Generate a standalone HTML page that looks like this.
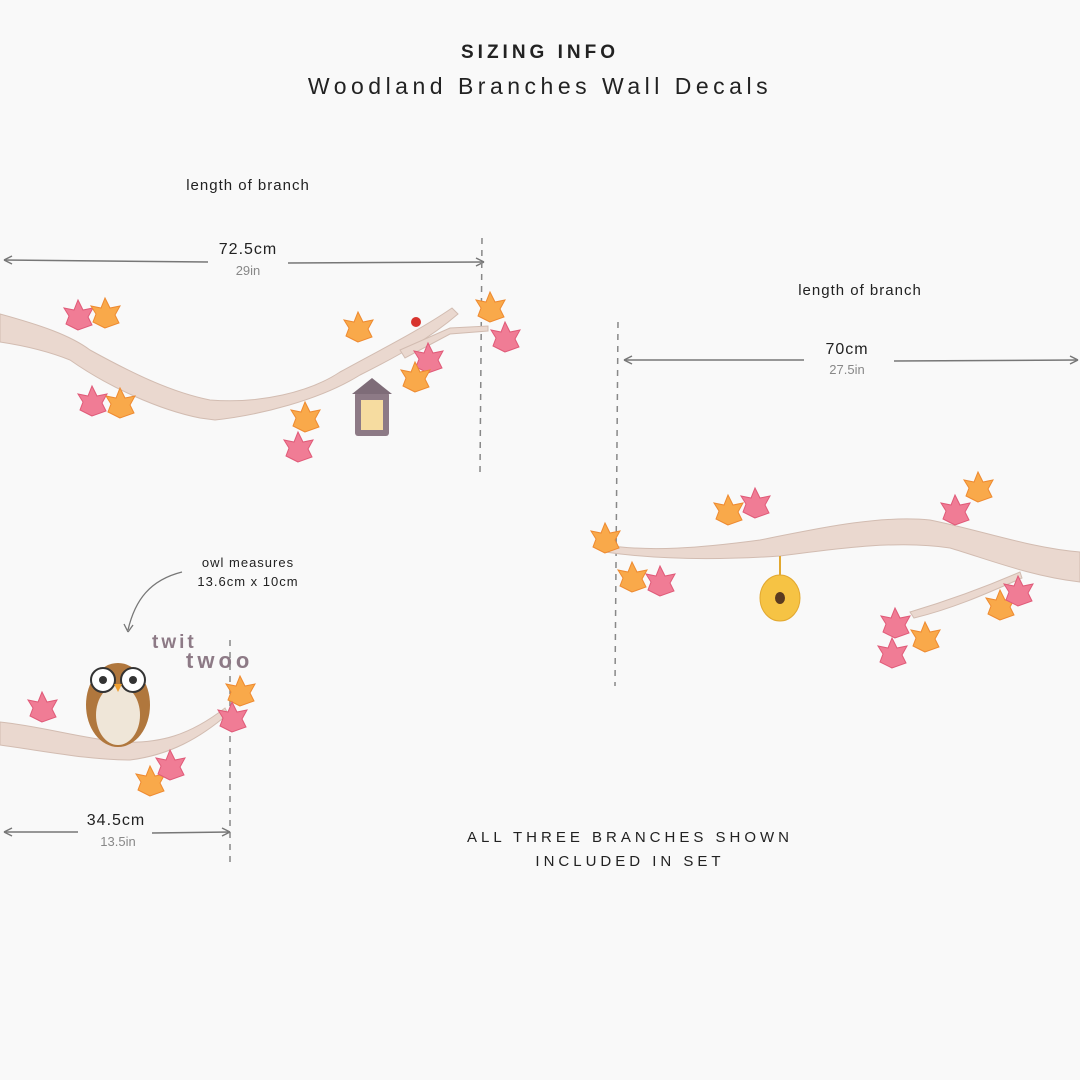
<!DOCTYPE html>
<html><head><meta charset="utf-8"><style>
html,body{margin:0;padding:0;background:#f9f9f9;}
svg{display:block;}
text{font-family:"Liberation Sans",sans-serif;fill:#222;}
</style></head><body>
<svg width="1080" height="1080" viewBox="0 0 1080 1080" xmlns="http://www.w3.org/2000/svg">
<defs>
<g id="leafP"><path d="M0,0 L-12,-6 L-9,-14 L-14,-22 L-4,-20 L0,-30 L5,-20 L15,-22 L10,-13 L14,-5 Z" fill="#f07c95" stroke="#e05a78" stroke-width="1"/></g>
<g id="leafO"><path d="M0,0 L-12,-6 L-9,-14 L-14,-22 L-4,-20 L0,-30 L5,-20 L15,-22 L10,-13 L14,-5 Z" fill="#f9a94a" stroke="#ee8a30" stroke-width="1"/></g>
</defs>
<rect width="1080" height="1080" fill="#f9f9f9"/>
<text x="540" y="58" text-anchor="middle" font-size="19" font-weight="600" letter-spacing="4">SIZING INFO</text>
<text x="540" y="94" text-anchor="middle" font-size="23" letter-spacing="4.5">Woodland Branches Wall Decals</text>

<!-- branch 1 -->
<text x="248" y="190" text-anchor="middle" font-size="15" letter-spacing="1">length of branch</text>
<line x1="4" y1="260" x2="208" y2="262" stroke="#777" stroke-width="1.5"/>
<line x1="288" y1="263" x2="484" y2="262" stroke="#777" stroke-width="1.5"/>
<path d="M4,260 l8,-4 M4,260 l8,4 M484,262 l-8,-4 M484,262 l-8,4" stroke="#777" stroke-width="1.5"/>
<text x="248" y="254" text-anchor="middle" font-size="16" letter-spacing="1">72.5cm</text>
<text x="248" y="275" text-anchor="middle" font-size="13" style="fill:#888">29in</text>
<line x1="482" y1="238" x2="480" y2="472" stroke="#888" stroke-width="1.5" stroke-dasharray="6,6"/>
<path d="M0,314 C40,325 70,335 90,350 C130,372 170,392 210,400 C260,404 310,392 340,372 C380,350 420,330 452,308 L458,314 C430,338 400,355 360,375 C320,400 260,415 215,420 L200,418 C160,410 110,388 70,360 C45,350 20,345 0,342 Z" fill="#ead8cf" stroke="#d2bcb1" stroke-width="1"/>
<path d="M400,350 L450,328 L488,326 L488,331 L450,334 L405,358 Z" fill="#ead8cf" stroke="#d2bcb1"/>
<use href="#leafP" x="78" y="330"/><use href="#leafO" x="105" y="328"/>
<use href="#leafP" x="92" y="416"/><use href="#leafO" x="120" y="418"/>
<use href="#leafO" x="305" y="432"/><use href="#leafP" x="298" y="462"/>
<use href="#leafO" x="358" y="342"/><use href="#leafP" x="428" y="373"/><use href="#leafO" x="415" y="392"/>
<use href="#leafO" x="490" y="322"/><use href="#leafP" x="505" y="352"/>
<circle cx="416" cy="322" r="5" fill="#d8342e"/>
<rect x="355" y="392" width="34" height="44" rx="3" fill="#8d7a86"/>
<rect x="361" y="400" width="22" height="30" fill="#f6dca0"/>
<path d="M352,394 L372,378 L392,394 Z" fill="#7e6c78"/>

<!-- branch 2 -->
<text x="860" y="295" text-anchor="middle" font-size="15" letter-spacing="1">length of branch</text>
<line x1="624" y1="360" x2="804" y2="360" stroke="#777" stroke-width="1.5"/>
<line x1="894" y1="361" x2="1078" y2="360" stroke="#777" stroke-width="1.5"/>
<path d="M624,360 l8,-4 M624,360 l8,4 M1078,360 l-8,-4 M1078,360 l-8,4" stroke="#777" stroke-width="1.5"/>
<text x="847" y="354" text-anchor="middle" font-size="16" letter-spacing="1">70cm</text>
<text x="847" y="374" text-anchor="middle" font-size="13" style="fill:#888">27.5in</text>
<line x1="618" y1="322" x2="615" y2="686" stroke="#888" stroke-width="1.5" stroke-dasharray="6,6"/>
<path d="M605,545 C650,552 700,548 760,540 C820,528 880,515 930,520 C980,530 1030,548 1080,552 L1080,582 C1030,576 990,560 950,548 C900,540 840,548 780,556 C720,560 660,560 605,552 Z" fill="#ead8cf" stroke="#d2bcb1"/>
<path d="M910,612 C950,600 990,585 1020,572 L1022,578 C990,592 955,608 914,618 Z" fill="#ead8cf" stroke="#d2bcb1"/>
<use href="#leafO" x="605" y="553"/><use href="#leafO" x="728" y="525"/><use href="#leafP" x="755" y="518"/>
<use href="#leafO" x="632" y="592"/><use href="#leafP" x="660" y="596"/>
<use href="#leafP" x="955" y="525"/><use href="#leafO" x="978" y="502"/>
<use href="#leafP" x="895" y="638"/><use href="#leafO" x="925" y="652"/><use href="#leafP" x="892" y="668"/>
<use href="#leafO" x="1000" y="620"/><use href="#leafP" x="1018" y="606"/>
<line x1="780" y1="556" x2="780" y2="575" stroke="#e2a830" stroke-width="2"/>
<ellipse cx="780" cy="598" rx="20" ry="23" fill="#f6c344" stroke="#e2a830"/>
<ellipse cx="780" cy="598" rx="5" ry="6" fill="#5a3a20"/>

<!-- branch 3 owl -->
<text x="248" y="567" text-anchor="middle" font-size="13" letter-spacing="1">owl measures</text>
<text x="248" y="586" text-anchor="middle" font-size="13" letter-spacing="1">13.6cm x 10cm</text>
<path d="M182,572 C150,580 135,600 128,630" stroke="#777" fill="none" stroke-width="1.3"/>
<path d="M128,632 l-4,-8 M128,632 l5,-7" stroke="#777" stroke-width="1.3"/>
<text x="152" y="648" font-size="19" letter-spacing="3" style="fill:#8d7a86" font-weight="bold">twit</text>
<text x="186" y="668" font-size="22" letter-spacing="4" style="fill:#8d7a86" font-weight="bold">twoo</text>
<line x1="230" y1="640" x2="230" y2="865" stroke="#888" stroke-width="1.5" stroke-dasharray="6,6"/>
<path d="M0,722 C40,726 80,738 120,742 C160,744 190,735 225,708 L228,714 C200,738 170,755 130,760 C90,760 50,752 0,745 Z" fill="#ead8cf" stroke="#d2bcb1"/>
<use href="#leafP" x="42" y="722"/><use href="#leafO" x="240" y="706"/><use href="#leafP" x="232" y="732"/>
<use href="#leafO" x="150" y="796"/><use href="#leafP" x="170" y="780"/>
<ellipse cx="118" cy="705" rx="32" ry="42" fill="#b0773d"/>
<ellipse cx="118" cy="715" rx="22" ry="30" fill="#efe6d8"/>
<circle cx="103" cy="680" r="12" fill="#fff" stroke="#333" stroke-width="2"/>
<circle cx="133" cy="680" r="12" fill="#fff" stroke="#333" stroke-width="2"/>
<circle cx="103" cy="680" r="4" fill="#333"/><circle cx="133" cy="680" r="4" fill="#333"/>
<path d="M114,684 L122,684 L118,692 Z" fill="#f0a030"/>
<line x1="4" y1="832" x2="78" y2="832" stroke="#777" stroke-width="1.5"/>
<line x1="152" y1="833" x2="230" y2="832" stroke="#777" stroke-width="1.5"/>
<path d="M4,832 l8,-4 M4,832 l8,4 M230,832 l-8,-4 M230,832 l-8,4" stroke="#777" stroke-width="1.5"/>
<text x="116" y="825" text-anchor="middle" font-size="16" letter-spacing="1">34.5cm</text>
<text x="118" y="846" text-anchor="middle" font-size="13" style="fill:#888">13.5in</text>

<text x="630" y="842" text-anchor="middle" font-size="15" letter-spacing="4">ALL THREE BRANCHES SHOWN</text>
<text x="630" y="866" text-anchor="middle" font-size="15" letter-spacing="4">INCLUDED IN SET</text>
</svg>
</body></html>
